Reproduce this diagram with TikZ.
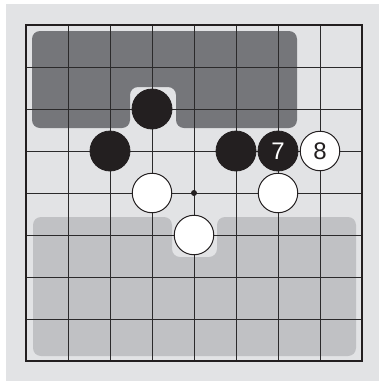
\documentclass[tikz,border=0pt]{standalone}
\usepackage{fontspec}
\setsansfont{Liberation Sans}
\definecolor{bgcol}{HTML}{E2E3E5}
\definecolor{darkterr}{HTML}{75767A}
\definecolor{lightterr}{HTML}{C0C1C4}
\definecolor{ink}{HTML}{231F20}
\definecolor{gridcol}{HTML}{2B2A2B}
\newcommand{\stonefont}{\sffamily\fontsize{24pt}{24pt}\selectfont}
\tikzset{
  gridline/.style={draw=gridcol, line width=0.9pt},
  frameline/.style={draw=ink, line width=2.5pt},
  bstone/.style={circle, fill=ink, draw=ink, line width=0.8pt, minimum size=40pt, inner sep=0pt, text=white},
  wstone/.style={circle, fill=white, draw=ink, line width=1pt, minimum size=39.5pt, inner sep=0pt, text=ink},
  hoshi/.style={circle, fill=ink, minimum size=6pt, inner sep=0pt},
  terr/.style={rounded corners=8pt}
}
\begin{document}
\begin{tikzpicture}[x=1pt,y=-1pt]
\useasboundingbox (0,0) rectangle (379,381);
\fill[white] (0,0) rectangle (379,381);
\fill[bgcol] (6,4) rectangle (379,381);
% territories
\fill[darkterr,terr] (32,31) -- (297,31) -- (297,128) -- (176,128) -- (176,87) -- (130,87) -- (130,128) -- (32,128) -- cycle;
\fill[lightterr,terr] (33,217) -- (172,217) -- (172,257) -- (217,257) -- (217,217) -- (356,217) -- (356,356) -- (33,356) -- cycle;
% grid
\foreach \i in {1,...,7} {
  \draw[gridline] ({26+42*\i},25) -- ({26+42*\i},361);
  \draw[gridline] (26,{25+42*\i}) -- (362,{25+42*\i});
}
\draw[frameline] (26,25) rectangle (362,361);
% hoshi
\node[hoshi] (h) at (194,193) {};
% stones
\node[bstone] (b1) at (152,109) {};
\node[bstone] (b2) at (110,151) {};
\node[bstone] (b3) at (236,151) {};
\node[bstone] (b7) at (278,151) {\stonefont 7};
\node[wstone] (w8) at (320,151) {\stonefont 8};
\node[wstone] (w1) at (152,193) {};
\node[wstone] (w2) at (278,193) {};
\node[wstone] (w3) at (194,235) {};
\end{tikzpicture}
\end{document}
